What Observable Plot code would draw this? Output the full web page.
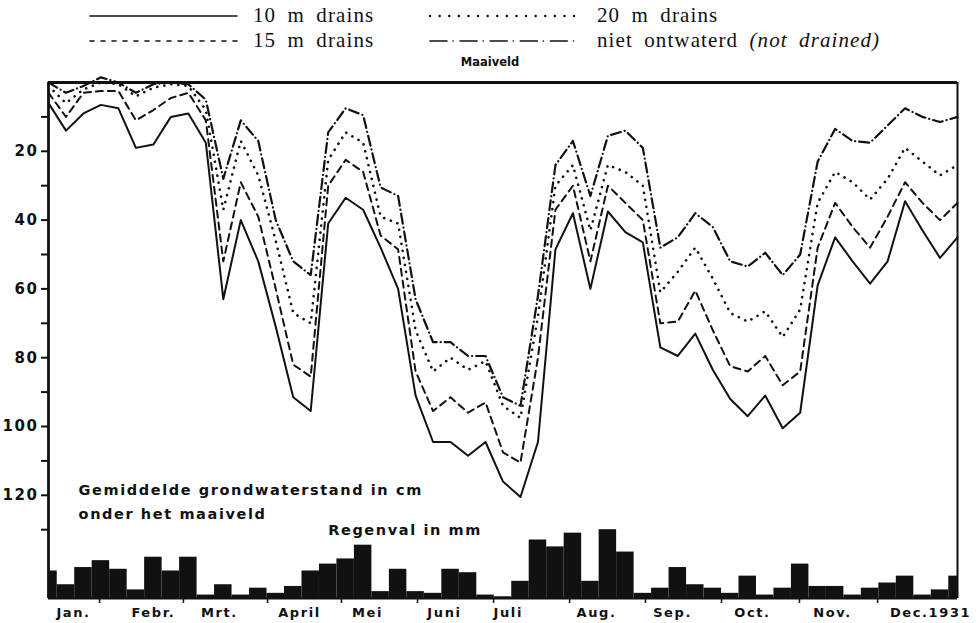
<!DOCTYPE html>
<html>
<head>
<meta charset="utf-8">
<script src="https://cdn.jsdelivr.net/npm/d3@7"></script>
<script src="https://cdn.jsdelivr.net/npm/@observablehq/plot@0.6"></script>
<style>
  html, body { margin: 0; padding: 0; background: #fff; }
  #wrap { width: 980px; height: 623px; position: relative; overflow: hidden; }
  #legend { display: block; }
  #chart svg text { letter-spacing: 1.6px; }
</style>
</head>
<body>
<div id="wrap">
  <svg id="legend" width="980" height="70"></svg>
  <div id="chart"></div>
</div>
<script>
// ---- data ----
// weekly readings, index 0..52 (Jan .. end of Dec 1931)
const weekNo = [0,1,2,3,4,5,6,7,8,9,10,11,12,13,14,15,16,17,18,19,20,21,22,23,24,25,26,27,28,29,30,31,32,33,34,35,36,37,38,39,40,41,42,43,44,45,46,47,48,49,50,51,52];

// mean groundwater depth below surface, cm
const drains10 = [6,14,9,6.5,7.5,19,18,10,9,17.5,63,40,52,71,91.5,95.5,41,33.5,37,48,60,91,104.5,104.5,108.5,104.5,116,120.5,104.5,48.5,38,60,37.5,43.5,46.5,77,79.5,73,83.5,92,97,91,100.5,96,59,45,52,58.5,52,34.5,43,51,45];
const drains15 = [3,10,3,2.5,2.5,11,8,4.5,3,11,52,29,39,60,82,85.5,30,22.5,26,44.5,48.5,84,95.5,91.5,96,93,107.5,110.5,80,37,30,52,30,35,40,70,69.5,60.5,72,82.5,84,79.5,88,84,48,35,42,48,39,29,35,40,35];
const drains20 = [1,6,2,0,0.5,4,1.5,0.5,1,8,37,17,27,46,67,70,22.5,14.5,17.5,39,41,72,84,80,83.5,81,94,97.5,68,30,24,43,24,26,30,61,55,48,57,67,69.5,66.5,74,66,35,26,29,34,28,19,23,27,24];
const notDrained = [0,3,1,-1.5,0,3,0.5,0,0.5,5,28,11,17,40,52,56,14.5,7.5,9.5,30.5,33,63,75.5,75.5,79.5,79.5,91.5,94,62,24,17,33,15.5,14,19,48,45,38,42,52,53.5,49.5,56,50,23,13.5,17,17.5,12.5,7.5,10,11.5,10];

// weekly rainfall, mm
const rainMm = [16,8,18,22,17,5,24,16,24,2,8,2,6,3,7,16,20,23,31,4,17,4,3,17,15,2,1,10,34,30,38,10,40,27,3,6,18,8,6,3,13,2,6,20,7,7,2,6,9,13,2,5,13];

// axis ticks
const yTickValues = [10,20,30,40,50,60,70,80,90,100,110,120,130];
const yTickLabels = [20,40,60,80,100,120];
const monthBounds = [2.92,7.72,12.53,16.76,21.11,25.46,29.81,34.15,38.5,42.96,47.43];
const monthNames = ["Jan.","Febr.","Mrt.","April","Mei","Juni","Juli","Aug.","Sep.","Oct.","Nov.","Dec.1931"];
const monthLabelAt = [1.43,6.0,9.78,14.36,18.25,22.65,26.3,31.35,35.7,40.27,44.85,50.46];

const series = [
  {name: "10 m drains", values: drains10},
  {name: "15 m drains", values: drains15},
  {name: "20 m drains", values: drains20},
  {name: "niet ontwaterd", values: notDrained}
];

// ---- styles ----
const INK = "#111";
const RAIN_BASE = 150;     // depth-axis value of the rain baseline
const RAIN_SCALE = 0.5;    // depth-axis units per mm of rain
const dash = {
  "10 m drains": null,
  "15 m drains": "7 5",
  "20 m drains": "0.1 7",
  "niet ontwaterd": "10 4 0.1 4"
};
const width = {
  "10 m drains": 2,
  "15 m drains": 2,
  "20 m drains": 2.6,
  "niet ontwaterd": 2.2
};

// ---- legend (above the chart) ----
const lg = d3.select("#legend");
const legendItems = [
  {x: 90, y: 16, name: "10 m drains"},
  {x: 90, y: 41, name: "15 m drains"},
  {x: 430, y: 16, name: "20 m drains"},
  {x: 430, y: 41, name: "niet ontwaterd"}
];
const legendDash = {"10 m drains": null, "15 m drains": "4 7", "20 m drains": "0.1 9.5", "niet ontwaterd": "17 6 0.1 7"};
for (const it of legendItems) {
  lg.append("line").attr("x1", it.x).attr("x2", it.x + 147).attr("y1", it.y).attr("y2", it.y)
    .attr("stroke", INK).attr("stroke-width", it.name === "20 m drains" ? 2.4 : 1.6)
    .attr("stroke-linecap", "round")
    .attr("stroke-dasharray", legendDash[it.name]);
}
const serif = "'Liberation Serif', 'DejaVu Serif', serif";
const addT = (x, y, s) => lg.append("text").attr("x", x).attr("y", y).text(s)
  .attr("font-family", serif).attr("font-size", 21).attr("fill", INK)
  .style("letter-spacing", "1.1px").style("word-spacing", "5px");
addT(253, 22, "10 m drains");
addT(253, 47, "15 m drains");
addT(597, 22, "20 m drains");
const nd = addT(597, 47, "niet ontwaterd ");
nd.append("tspan").attr("font-style", "italic").text("(not drained)");
lg.append("text").attr("x", 490).attr("y", 66).attr("text-anchor", "middle").text("Maaiveld")
  .attr("font-family", "'DejaVu Sans', sans-serif").attr("font-weight", "bold").attr("font-size", 11.5).attr("fill", INK);

// ---- chart ----
const rows = series.flatMap(s => s.values.map((v, i) => ({series: s.name, week: weekNo[i], depth: v})));
const rainRows = rainMm.map((mm, i) => ({
  x1: Math.max(0, weekNo[i] - 0.5),
  x2: Math.min(52, weekNo[i] + 0.5),
  y1: RAIN_BASE,
  y2: RAIN_BASE - mm * RAIN_SCALE
}));

const lineMarks = series.map(s => Plot.line(rows.filter(r => r.series === s.name), {
  x: "week", y: "depth",
  stroke: INK,
  strokeWidth: width[s.name],
  strokeDasharray: dash[s.name],
  strokeLinecap: "round",
  strokeLinejoin: "round"
}));

const sans = "'DejaVu Sans', sans-serif";

const chart = Plot.plot({
  width: 980,
  height: 553,
  marginTop: 12,
  marginBottom: 25,
  marginLeft: 48,
  marginRight: 23,
  x: {domain: [0, 52]},
  y: {domain: [0, 150], reverse: true},
  style: {fontFamily: sans, background: "#fff", color: INK, overflow: "visible"},
  marks: [
    Plot.rect(rainRows, {x1: "x1", x2: "x2", y1: "y1", y2: "y2", fill: INK}),
    ...lineMarks,
    Plot.ruleY([0], {stroke: INK, strokeWidth: 2.8}),
    Plot.ruleY([RAIN_BASE], {stroke: INK, strokeWidth: 2}),
    Plot.ruleX([0], {stroke: INK, strokeWidth: 2.8}),
    Plot.ruleX([52], {stroke: INK, strokeWidth: 2}),
    Plot.axisY({
      ticks: yTickValues, tickSize: 7, tickPadding: 3, strokeWidth: 2,
      tickFormat: d => yTickLabels.includes(d) ? String(d) : "",
      fontSize: 15, fontWeight: "bold", fontFamily: sans
    }),
    Plot.axisX({ticks: monthBounds, tickSize: 5, strokeWidth: 1.5, tickFormat: () => "", label: null}),
    Plot.axisX({
      ticks: monthLabelAt, tickSize: 0, tickPadding: 9, label: null,
      tickFormat: d => monthNames[monthLabelAt.indexOf(d)],
      fontSize: 13, fontWeight: "bold", fontFamily: sans
    }),
    Plot.text(["Gemiddelde grondwaterstand in cm"], {x: 1.72, y: 119.8, text: d => d, textAnchor: "start", lineAnchor: "bottom", fontSize: 14.5, fontWeight: "bold", fill: INK}),
    Plot.text(["onder het maaiveld"], {x: 1.72, y: 127, text: d => d, textAnchor: "start", lineAnchor: "bottom", fontSize: 14.5, fontWeight: "bold", fill: INK}),
    Plot.text(["Regenval in mm"], {x: 16.0, y: 131.4, text: d => d, textAnchor: "start", lineAnchor: "bottom", fontSize: 14.5, fontWeight: "bold", fill: INK})
  ]
});
document.getElementById("chart").appendChild(chart);
</script>
</body>
</html>
